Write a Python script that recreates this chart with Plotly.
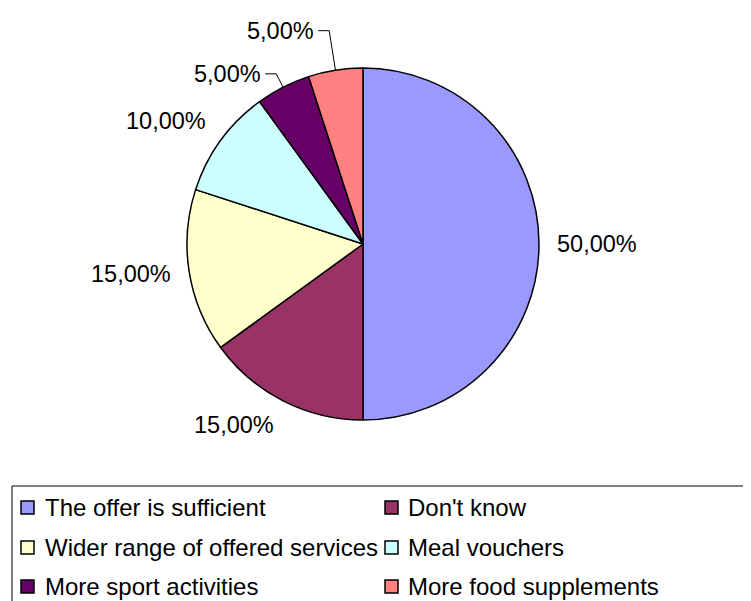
import math
import plotly.graph_objects as go

# ---- data ----
categories = [
    "The offer is sufficient",
    "Don't know",
    "Wider range of offered services",
    "Meal vouchers",
    "More sport activities",
    "More food supplements",
]
values = [50, 15, 15, 10, 5, 5]
colors = ["#9999FF", "#993366", "#FFFFCC", "#CCFFFF", "#660066", "#FF8080"]

# ---- layout constants (screen pixels) ----
W, H = 751, 601
OFF = 8  # page body margin
CX, CY, R = 363, 244, 176
label_radius = [192, 192, 192, 192, 191, 216]
use_leader = [False, False, False, False, True, True]
FONT = "Liberation Sans, Arial, sans-serif"


def px(x):
    return (x - OFF) / W


def py(y):
    return 1 - (y - OFF) / H


total = sum(values)
pct_text = [f"{v / total * 100:.2f}".replace(".", ",") + "%" for v in values]

fig = go.Figure(
    go.Pie(
        labels=categories,
        values=values,
        sort=False,
        direction="clockwise",
        rotation=0,
        marker=dict(colors=colors, line=dict(color="black", width=1.5)),
        textinfo="none",
        hoverinfo="label+percent",
        showlegend=False,
        domain=dict(x=[px(CX - R), px(CX + R)], y=[py(CY + R), py(CY - R)]),
    )
)

annotations = []
shapes = []

# ---- slice value labels ----
cum = 0
for i, v in enumerate(values):
    mid = (cum + v / 2) / total * 2 * math.pi
    cum += v
    s, c = math.sin(mid), math.cos(mid)
    rl = label_radius[i]
    if use_leader[i]:
        ex, ey = CX + R * s, CY - R * c
        kx, ky = CX + rl * s, CY - rl * c
        shapes.append(dict(
            type="path", xref="paper", yref="paper",
            path=f"M{px(ex)},{py(ey)} L{px(kx)},{py(ky)} L{px(kx - 11)},{py(ky)}",
            line=dict(color="black", width=1),
        ))
        annotations.append(dict(
            x=px(kx - 13), y=py(ky), xref="paper", yref="paper",
            text=pct_text[i], showarrow=False, xanchor="right", yanchor="middle",
            font=dict(family=FONT, size=23.5, color="black"),
        ))
        continue
    ax, ay = CX + rl * s, CY - rl * c
    xa = "left" if s > 0.2 else ("right" if s < -0.2 else "center")
    if c > 0.3:
        ya, ys = "bottom", -5
    elif c < -0.3:
        ya, ys = "top", 5
    else:
        ya, ys = "middle", 0
    annotations.append(dict(
        x=px(ax), y=py(ay), xref="paper", yref="paper",
        text=pct_text[i], showarrow=False, xanchor=xa, yanchor=ya, yshift=ys,
        font=dict(family=FONT, size=23.5, color="black"),
    ))

# ---- legend (box clipped by the page edges, 2 columns x 3 rows) ----
shapes.append(dict(
    type="rect", xref="paper", yref="paper",
    x0=px(12), x1=px(820), y0=py(486), y1=py(660),
    line=dict(color="black", width=1), fillcolor="rgba(0,0,0,0)",
))
col_sq = [21, 385]
col_tx = [43, 406]
row_y = [507, 547, 586]
for i, name in enumerate(categories):
    col, row = i % 2, i // 2
    x0 = col_sq[col]
    yc = row_y[row]
    shapes.append(dict(
        type="rect", xref="paper", yref="paper",
        x0=px(x0), x1=px(x0 + 13), y0=py(yc + 7), y1=py(yc - 6),
        line=dict(color="black", width=1.5), fillcolor=colors[i],
    ))
    annotations.append(dict(
        x=px(col_tx[col]), y=py(yc), xref="paper", yref="paper",
        text=name, showarrow=False, xanchor="left", yanchor="middle",
        font=dict(family=FONT, size=24, color="black"),
    ))

fig.update_layout(
    width=W, height=H,
    margin=dict(l=0, r=0, t=0, b=0),
    paper_bgcolor="white", plot_bgcolor="white",
    shapes=shapes, annotations=annotations,
    showlegend=False,
)

fig.write_html("out.html")
